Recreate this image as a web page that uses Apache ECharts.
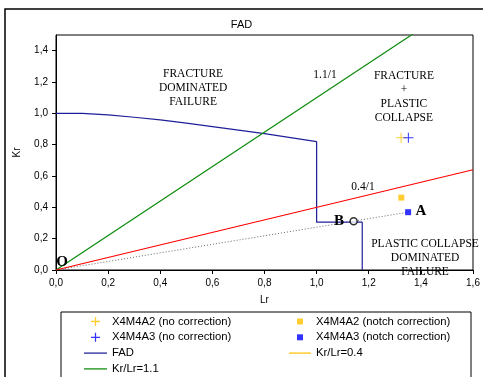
<!DOCTYPE html>
<html>
<head>
<meta charset="utf-8">
<script src="https://cdn.jsdelivr.net/npm/echarts@6/dist/echarts.min.js"></script>
<style>
html, body { margin: 0; padding: 0; background: #fff; }
#chart { width: 483px; height: 377px; }
</style>
</head>
<body>
<div id="chart"></div>
<script>
// FAD curve (Lr, Kr)
var fadLr = [0, 0.1, 0.2, 0.3, 0.4, 0.5, 0.6, 0.7, 0.8, 0.9, 1.0, 1.0, 1.175, 1.175];
var fadKr = [1.0, 1.0, 0.99, 0.975, 0.958, 0.937, 0.915, 0.893, 0.87, 0.845, 0.82, 0.305, 0.305, 0];

// ratio lines
var line04Lr = [0, 1.6];
var line04Kr = [0, 0.64];
var line11Lr = [0, 1.4];
var line11Kr = [0, 1.54];

// path O -> A (dotted)
var pathLr = [0, 1.351];
var pathKr = [0, 0.369];

// test points
var a2NoCorrLr = [1.324], a2NoCorrKr = [0.844];
var a3NoCorrLr = [1.352], a3NoCorrKr = [0.844];
var a2NotchLr = [1.325], a2NotchKr = [0.462];
var a3NotchLr = [1.351], a3NotchKr = [0.369];
var pointBLr = [1.142], pointBKr = [0.311];

// annotations: text, Lr, Kr, style
var notes = [
  { text: 'FRACTURE\nDOMINATED\nFAILURE', lr: 0.526, kr: 1.164, size: 11.5, bold: false },
  { text: '1.1/1', lr: 1.032, kr: 1.247, size: 11.5, bold: false },
  { text: 'FRACTURE\n+\nPLASTIC\nCOLLAPSE', lr: 1.335, kr: 1.106, size: 11.5, bold: false },
  { text: '0.4/1', lr: 1.178, kr: 0.531, size: 11.5, bold: false },
  { text: 'PLASTIC COLLAPSE\nDOMINATED\nFAILURE', lr: 1.416, kr: 0.077, size: 11.5, bold: false },
  { text: 'B', lr: 1.086, kr: 0.313, size: 15, bold: true },
  { text: 'A', lr: 1.40, kr: 0.377, size: 15, bold: true },
  { text: 'O', lr: 0.023, kr: 0.05, size: 15, bold: true }
];

function pairs(xs, ys) {
  var out = [];
  for (var i = 0; i < xs.length; i++) out.push([xs[i], ys[i]]);
  return out;
}

var plusPath = 'path://M4.5,0h1v4.5h4.5v1h-4.5v4.5h-1v-4.5h-4.5v-1h4.5z';
var plusIcon = 'path://M4.3,0h1.4v4.3h4.3v1.4h-4.3v4.3h-1.4v-4.3h-4.3v-1.4h4.3z';
var linePath = 'path://M0,0h22v1.2h-22z';
var squarePath = 'path://M0,0h1v1h-1z';
var yellow = '#ffc000';
var blue = '#0000ff';
var navy = '#1f1f99';
var green = '#0a8a0a';
var red = '#ff0000';
var fmt = function (v) { return v.toFixed(1).replace('.', ','); };

var myChart = echarts.init(document.getElementById('chart'));

var legendText = { fontFamily: 'Liberation Sans', fontSize: 11.3, color: '#000', lineHeight: 10 };

var option = {
  animation: false,
  backgroundColor: '#fff',
  title: {
    text: 'FAD',
    left: 'center',
    top: 14,
    textStyle: { fontFamily: 'Liberation Sans', fontSize: 11, fontWeight: 'normal', color: '#000' }
  },
  grid: {
    left: 56, right: 10, top: 35, bottom: 107,
    show: true, borderColor: '#000', borderWidth: 1, backgroundColor: '#fff'
  },
  xAxis: {
    type: 'value', min: 0, max: 1.6, interval: 0.2,
    name: 'Lr', nameLocation: 'middle', nameGap: 25,
    nameTextStyle: { fontFamily: 'Liberation Sans', fontSize: 10, color: '#000' },
    axisLine: { lineStyle: { color: '#000', width: 1 } },
    axisTick: { show: true, length: 4, lineStyle: { color: '#000' } },
    axisLabel: { formatter: fmt, fontFamily: 'Liberation Sans', fontSize: 10, color: '#000', margin: 8 },
    splitLine: { show: false }
  },
  yAxis: {
    type: 'value', min: 0, max: 1.5, interval: 0.2,
    name: 'Kr', nameLocation: 'middle', nameGap: 34, nameRotate: 90,
    nameTextStyle: { fontFamily: 'Liberation Sans', fontSize: 10, color: '#000' },
    axisLine: { lineStyle: { color: '#000', width: 1 } },
    axisTick: { show: true, length: 4, lineStyle: { color: '#000' } },
    axisLabel: { formatter: fmt, fontFamily: 'Liberation Sans', fontSize: 10, color: '#000', margin: 8, showMaxLabel: false },
    splitLine: { show: false }
  },
  legend: [
    {
      orient: 'vertical', left: 84, top: 316, itemWidth: 23, itemHeight: 9, itemGap: 4.8,
      symbolKeepAspect: true, padding: 0, height: 70,
      textStyle: legendText,
      data: [
        { name: 'X4M4A2 (no correction)', icon: plusIcon },
        { name: 'X4M4A3 (no correction)', icon: plusIcon },
        { name: 'FAD', icon: linePath },
        { name: 'Kr/Lr=1.1', icon: linePath }
      ]
    },
    {
      orient: 'vertical', left: 289, top: 316, itemWidth: 22, itemHeight: 6, itemGap: 4.8,
      symbolKeepAspect: true, padding: 0, height: 70,
      textStyle: legendText,
      data: [
        { name: 'X4M4A2 (notch correction)', icon: squarePath },
        { name: 'X4M4A3 (notch correction)', icon: squarePath },
        { name: 'Kr/Lr=0.4', icon: linePath, itemStyle: { color: yellow } }
      ]
    }
  ],
  series: [
    {
      name: 'FAD', type: 'line', data: pairs(fadLr, fadKr), symbol: 'none',
      lineStyle: { color: navy, width: 1.2 }, itemStyle: { color: navy }, z: 3
    },
    {
      name: 'Kr/Lr=1.1', type: 'line', data: pairs(line11Lr, line11Kr), symbol: 'none',
      lineStyle: { color: green, width: 1.2 }, itemStyle: { color: green }, clip: true
    },
    {
      name: 'Kr/Lr=0.4', type: 'line', data: pairs(line04Lr, line04Kr), symbol: 'none',
      lineStyle: { color: red, width: 1.2 }, itemStyle: { color: red }
    },
    {
      name: 'path', type: 'line', data: pairs(pathLr, pathKr), symbol: 'none',
      lineStyle: { color: '#666', width: 1, type: [1, 2] }, z: 1
    },
    {
      name: 'X4M4A2 (no correction)', type: 'scatter', data: pairs(a2NoCorrLr, a2NoCorrKr),
      symbol: plusPath, symbolSize: 10, itemStyle: { color: yellow }
    },
    {
      name: 'X4M4A3 (no correction)', type: 'scatter', data: pairs(a3NoCorrLr, a3NoCorrKr),
      symbol: plusPath, symbolSize: 10, itemStyle: { color: blue }
    },
    {
      name: 'X4M4A2 (notch correction)', type: 'scatter', data: pairs(a2NotchLr, a2NotchKr),
      symbol: 'rect', symbolSize: 6, itemStyle: { color: yellow }
    },
    {
      name: 'X4M4A3 (notch correction)', type: 'scatter', data: pairs(a3NotchLr, a3NotchKr),
      symbol: 'rect', symbolSize: 6, itemStyle: { color: blue }
    },
    {
      name: 'B', type: 'scatter', data: pairs(pointBLr, pointBKr),
      symbol: 'circle', symbolSize: 7,
      itemStyle: { color: '#fff', borderColor: '#000', borderWidth: 1.5 }, z: 5
    }
  ]
};
myChart.setOption(option);

// annotations placed from data coordinates + frame boxes
var graphics = [
  { type: 'rect', shape: { x: 5, y: 9, width: 500, height: 400 }, style: { fill: null, stroke: '#000', lineWidth: 1.5 }, z: 0, silent: true },
  { type: 'rect', shape: { x: 61, y: 312, width: 410, height: 90 }, style: { fill: null, stroke: '#000', lineWidth: 1 }, z: 0, silent: true }
];
notes.forEach(function (n) {
  var p = myChart.convertToPixel({ gridIndex: 0 }, [n.lr, n.kr]);
  graphics.push({
    type: 'text', x: p[0], y: p[1], z: 10, silent: true,
    style: {
      text: n.text, align: 'center', verticalAlign: 'middle',
      font: (n.bold ? 'bold ' : '') + n.size + 'px "Liberation Serif", "Times New Roman", serif',
      fill: '#000', lineHeight: 14
    }
  });
});
myChart.setOption({ graphic: graphics });
</script>
</body>
</html>
